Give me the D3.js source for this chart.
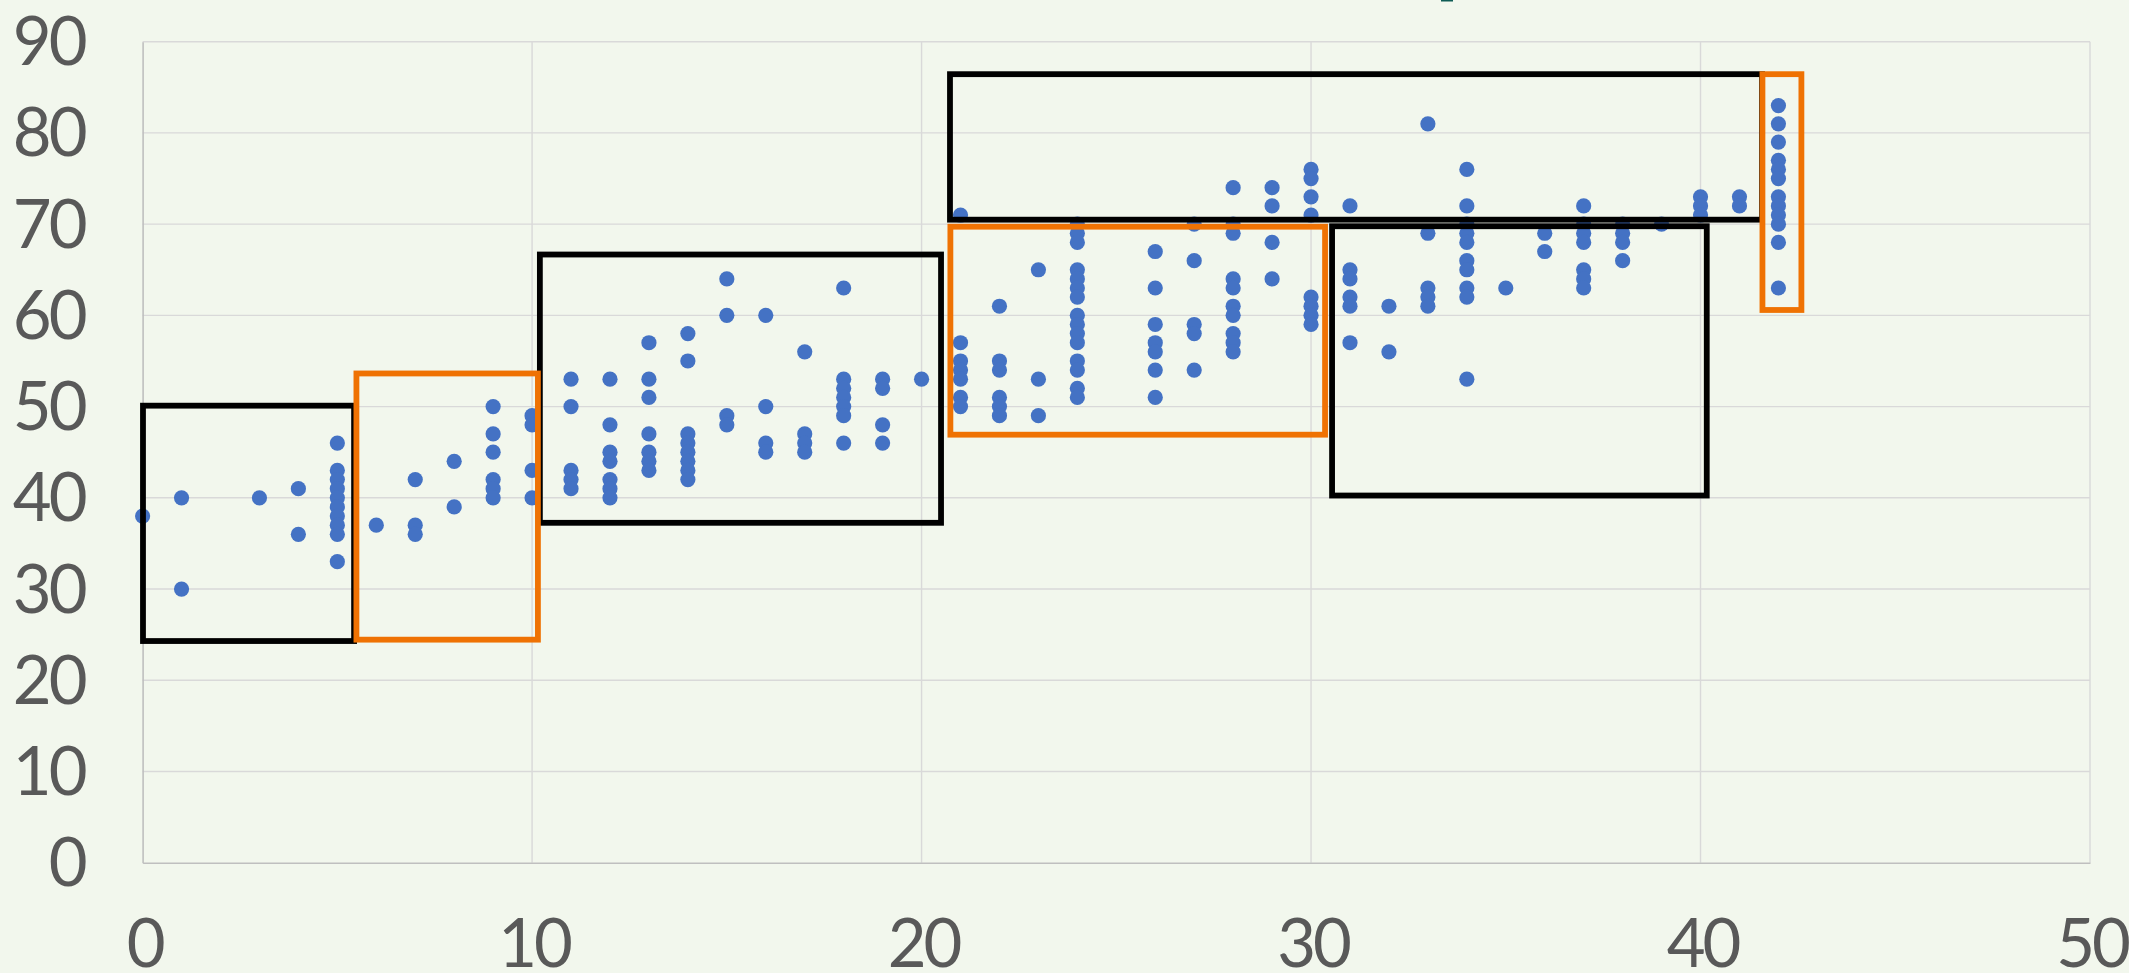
<!DOCTYPE html>
<html>
<head>
<meta charset="utf-8">
<script src="https://cdn.jsdelivr.net/npm/d3@7"></script>
<style>
  html, body { margin: 0; padding: 0; background: #F2F7ED; }
  svg { display: block; }
</style>
</head>
<body>
<svg id="chart" width="2129" height="973"></svg>
<script>
// ---- data ----
const xTicks = [0, 10, 20, 30, 40, 50];
const yTicks = [0, 10, 20, 30, 40, 50, 60, 70, 80, 90];

// x value and the y values observed at that x
const xValues = [0, 1, 3, 4, 5, 6, 7, 8, 9, 10, 11, 12, 13, 14, 15, 16, 17, 18, 19, 20,
                 21, 22, 23, 24, 26, 27, 28, 29, 30, 31, 32, 33, 34, 35, 36, 37, 38, 39, 40, 41, 42];
const yValues = [
  [38],
  [40, 30],
  [40],
  [41, 36],
  [46, 43, 42, 41, 40, 39, 38, 37, 36, 33],
  [37],
  [42, 37, 36],
  [44, 39],
  [50, 47, 45, 42, 41, 40],
  [49, 48, 43, 40],
  [53, 50, 43, 42, 41],
  [53, 48, 45, 44, 42, 41, 40],
  [57, 53, 51, 47, 45, 44, 43],
  [58, 55, 47, 46, 45, 44, 43, 42],
  [64, 60, 49, 48],
  [60, 50, 46, 45],
  [56, 47, 46, 45],
  [63, 53, 52, 51, 50, 49, 46],
  [53, 52, 48, 46],
  [53],
  [71, 57, 55, 54, 53, 51, 50],
  [61, 55, 54, 51, 50, 49],
  [65, 53, 49],
  [70, 69, 68, 65, 64, 63, 62, 60, 59, 58, 57, 55, 54, 52, 51],
  [67, 63, 59, 57, 56, 54, 51],
  [70, 66, 59, 58, 54],
  [74, 70, 69, 64, 63, 61, 60, 58, 57, 56],
  [74, 72, 68, 64],
  [76, 75, 73, 71, 62, 61, 60, 59],
  [72, 65, 64, 62, 61, 57],
  [61, 56],
  [81, 69, 63, 62, 61],
  [76, 72, 70, 69, 68, 66, 65, 63, 62, 53],
  [63],
  [69, 67],
  [72, 70, 69, 68, 65, 64, 63],
  [70, 69, 68, 66],
  [70],
  [73, 72, 71],
  [73, 72],
  [83, 81, 79, 77, 76, 75, 73, 72, 71, 70, 68, 63]
];

// annotation boxes in data units: [x0, x1, yLow, yHigh]
const blackBoxes = [
  [0.01, 5.43, 24.3, 50.1],
  [10.2, 20.5, 37.26, 66.67],
  [20.73, 41.58, 70.49, 86.44],
  [30.54, 40.16, 40.25, 69.77]
];
const orangeBoxes = [
  [5.49, 10.15, 24.45, 53.63],
  [20.74, 30.36, 46.92, 69.72],
  [41.59, 42.59, 60.59, 86.44]
];

// ---- layout ----
const W = 2129, H = 973;
const plotLeft = 142.6, plotRight = 2090, plotTop = 41.7, plotBottom = 862.7;
const svg = d3.select('#chart');

svg.append('rect').attr('x', 0).attr('y', 0).attr('width', W).attr('height', H).attr('fill', '#F2F7ED');

const x = d3.scaleLinear().domain([0, 50]).range([plotLeft, plotRight]);
const y = d3.scaleLinear().domain([0, 90]).range([plotBottom, plotTop]);

// gridlines
const grid = svg.append('g');
grid.selectAll('line.h').data(yTicks.filter(d => d > 0)).join('line')
  .attr('class', 'h')
  .attr('x1', plotLeft).attr('x2', plotRight)
  .attr('y1', d => y(d)).attr('y2', d => y(d))
  .attr('stroke', '#D9D9D9').attr('stroke-width', 1.4);
grid.selectAll('line.v').data(xTicks.filter(d => d > 0)).join('line')
  .attr('class', 'v')
  .attr('y1', plotTop).attr('y2', plotBottom)
  .attr('x1', d => x(d)).attr('x2', d => x(d))
  .attr('stroke', '#D9D9D9').attr('stroke-width', 1.4);

// axes
const xAxis = d3.axisBottom(x).tickValues(xTicks).tickSize(0).tickPadding(0);
const yAxis = d3.axisLeft(y).tickValues(yTicks).tickSize(0).tickPadding(0);

const gx = svg.append('g').attr('transform', `translate(0,${plotBottom})`).call(xAxis);
gx.select('.domain').attr('stroke', '#BFBFBF').attr('stroke-width', 1.6);
gx.selectAll('text')
  .attr('y', 104).attr('dy', null).attr('dx', 1.5)
  .attr('fill', '#595959')
  .style('font-family', 'Lato, "Open Sans", sans-serif')
  .style('font-size', '67px')
  .style('letter-spacing', '-3px');

const gy = svg.append('g').attr('transform', `translate(${plotLeft},0)`).call(yAxis);
gy.select('.domain').attr('stroke', '#BFBFBF').attr('stroke-width', 1.6);
gy.selectAll('text')
  .attr('x', -58).attr('dy', null).attr('y', 23)
  .attr('fill', '#595959')
  .style('font-family', 'Lato, "Open Sans", sans-serif')
  .style('font-size', '67px')
  .style('letter-spacing', '-3px');

// points
const points = [];
xValues.forEach((xv, i) => yValues[i].forEach(yv => points.push({ x: xv, y: yv })));
svg.append('g').selectAll('circle').data(points).join('circle')
  .attr('cx', d => x(d.x)).attr('cy', d => y(d.y)).attr('r', 7.6)
  .attr('fill', '#4472C4');

// boxes
function drawBoxes(data, color) {
  svg.append('g').selectAll('rect').data(data).join('rect')
    .attr('x', d => x(d[0])).attr('width', d => x(d[1]) - x(d[0]))
    .attr('y', d => y(d[3])).attr('height', d => y(d[2]) - y(d[3]))
    .attr('fill', 'none').attr('stroke', color).attr('stroke-width', 5.8);
}
drawBoxes(blackBoxes, '#000000');
drawBoxes(orangeBoxes, '#EF7203');

// fragment of a cropped title at the very top
svg.append('rect').attr('x', 1441).attr('y', 0).attr('width', 12).attr('height', 1.5).attr('fill', '#0E5C55');
</script>
</body>
</html>
